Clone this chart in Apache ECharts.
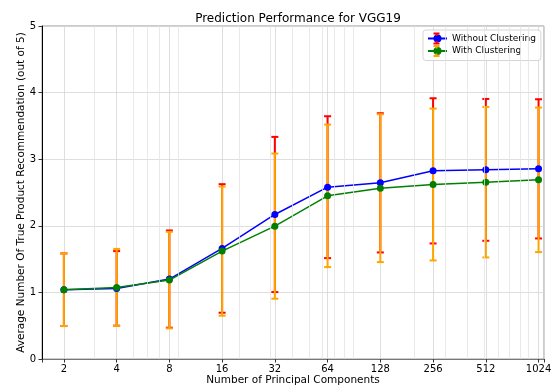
<!DOCTYPE html>
<html>
<head>
<meta charset="utf-8">
<script src="https://cdn.jsdelivr.net/npm/echarts@6/dist/echarts.min.js"></script>
<style>
  html, body { margin: 0; padding: 0; background: #fff; }
  #main { width: 554px; height: 390px; }
</style>
</head>
<body>
<div id="main"></div>
<script>
var myChart = echarts.init(document.getElementById('main'));

// number of principal components (x, log scale)
var components = [2, 4, 8, 16, 32, 64, 128, 256, 512, 1024];
// mean and std of recommendations
var meanWithout = [1.04, 1.06, 1.20, 1.66, 2.17, 2.58, 2.645, 2.825, 2.84, 2.855];
var stdWithout  = [0.545, 0.56, 0.73, 0.965, 1.165, 1.065, 1.045, 1.09, 1.065, 1.045];
var meanWith    = [1.04, 1.075, 1.185, 1.62, 1.995, 2.45, 2.565, 2.62, 2.655, 2.69];
var stdWith     = [0.545, 0.578, 0.725, 0.97, 1.09, 1.07, 1.11, 1.14, 1.13, 1.085];
// minor grid lines of a base-10 log axis (matplotlib style)
var minorGridX = [3, 5, 6, 7, 9, 20, 30, 40, 50, 60, 70, 80, 90, 200, 300, 400, 500, 600, 700, 800, 900];

var font = 'DejaVu Sans';

function pointData(means) {
    return components.map(function (c, i) { return [c, means[i]]; });
}
function errData(means, stds) {
    return components.map(function (c, i) { return [c, means[i] - stds[i], means[i] + stds[i]]; });
}

function errorBarItem(color) {
    return function (params, api) {
        var x = api.value(0);
        var pLo = api.coord([x, api.value(1)]);
        var pHi = api.coord([x, api.value(2)]);
        var cap = 3.5;
        var style = { stroke: color, lineWidth: 2, fill: null };
        return {
            type: 'group',
            children: [
                { type: 'line', shape: { x1: pLo[0], y1: pLo[1], x2: pHi[0], y2: pHi[1] }, style: style },
                { type: 'line', shape: { x1: pLo[0] - cap, y1: pLo[1], x2: pLo[0] + cap, y2: pLo[1] }, style: style },
                { type: 'line', shape: { x1: pHi[0] - cap, y1: pHi[1], x2: pHi[0] + cap, y2: pHi[1] }, style: style }
            ]
        };
    };
}

// minor grid lines + small minor ticks under the axis
var minorLines = [];
minorGridX.forEach(function (v) {
    minorLines.push({ xAxis: v, lineStyle: { color: '#e3e3e3', width: 0.8, type: 'solid' } });
    minorLines.push([
        { coord: [v, 0], lineStyle: { color: '#555', width: 0.8, type: 'solid' } },
        { coord: [v, -0.03] }
    ]);
});

// little error bar glyphs for the legend rows
function legendErr(cx, cy, color) {
    var s = { stroke: color, lineWidth: 2 };
    return [
        { type: 'line', z: 20, shape: { x1: cx, y1: cy - 5, x2: cx, y2: cy - 2.5 }, style: s },
        { type: 'line', z: 20, shape: { x1: cx, y1: cy + 2.5, x2: cx, y2: cy + 5 }, style: s },
        { type: 'line', z: 20, shape: { x1: cx - 3, y1: cy - 5, x2: cx + 3, y2: cy - 5 }, style: s },
        { type: 'line', z: 20, shape: { x1: cx - 3, y1: cy + 5, x2: cx + 3, y2: cy + 5 }, style: s }
    ];
}

var option = {
    backgroundColor: '#fff',
    animation: false,
    title: {
        text: 'Prediction Performance for VGG19',
        left: 293,
        textAlign: 'center',
        top: 8,
        textStyle: { fontFamily: font, fontSize: 12, fontWeight: 'normal', color: '#000' }
    },
    grid: {
        left: 42, right: 10, top: 26, bottom: 31,
        outerBoundsMode: 'none',
        containLabel: false,
        show: true, borderColor: '#999', borderWidth: 1
    },
    legend: {
        data: ['Without Clustering', 'With Clustering'],
        orient: 'vertical',
        left: 423,
        top: 30,
        padding: [3, 5, 4, 4],
        itemGap: 1.5,
        itemWidth: 19,
        itemHeight: 10,
        borderColor: '#d5d5d5',
        borderWidth: 1,
        borderRadius: 3,
        backgroundColor: 'rgba(255,255,255,0.85)',
        textStyle: { fontFamily: font, fontSize: 9, lineHeight: 11, color: '#000' }
    },
    graphic: legendErr(436.5, 38.5, 'red').concat(legendErr(436.5, 51, 'orange')),
    xAxis: {
        type: 'log',
        logBase: 2,
        min: 1.5,
        max: 1100,
        name: 'Number of Principal Components',
        nameLocation: 'middle',
        nameGap: 16,
        nameMoveOverlap: false,
        nameTextStyle: { fontFamily: font, fontSize: 10.5, color: '#000', verticalAlign: 'top' },
        axisLine: { lineStyle: { color: '#777', width: 1 } },
        axisTick: { show: true, length: 3.5, lineStyle: { color: '#333' } },
        axisLabel: {
            fontFamily: font, fontSize: 10, color: '#000', margin: 5,
            formatter: function (v) {
                var r = Math.round(v);
                return (Math.abs(v - r) < 1e-6 && components.indexOf(r) >= 0) ? String(r) : '';
            }
        },
        splitLine: { show: true, lineStyle: { color: '#d6d6d6', width: 0.8 } }
    },
    yAxis: {
        type: 'value',
        min: 0,
        max: 5,
        interval: 1,
        name: 'Average Number Of True Product Recommendation (out of 5)',
        nameLocation: 'middle',
        nameGap: 15,
        nameMoveOverlap: false,
        nameTextStyle: { fontFamily: font, fontSize: 10.5, color: '#000' },
        axisLine: { show: true, lineStyle: { color: '#000', width: 1 } },
        axisTick: { show: true, length: 3.5, lineStyle: { color: '#333' } },
        axisLabel: { fontFamily: font, fontSize: 10, color: '#000', margin: 6 },
        splitLine: { show: true, lineStyle: { color: '#d6d6d6', width: 0.8 } }
    },
    series: [
        {
            name: 'minor',
            type: 'line',
            data: [],
            z: 0,
            silent: true,
            markLine: {
                silent: true,
                symbol: ['none', 'none'],
                label: { show: false },
                animation: false,
                data: minorLines
            }
        },
        {
            name: 'Without Clustering err',
            type: 'custom',
            z: 1,
            renderItem: errorBarItem('#ff0000'),
            encode: { x: 0, y: [1, 2] },
            data: errData(meanWithout, stdWithout)
        },
        {
            name: 'With Clustering err',
            type: 'custom',
            z: 2,
            renderItem: errorBarItem('#ffa500'),
            encode: { x: 0, y: [1, 2] },
            data: errData(meanWith, stdWith)
        },
        {
            name: 'Without Clustering',
            type: 'line',
            z: 3,
            symbol: 'circle',
            symbolSize: 7,
            itemStyle: { color: '#0000ff' },
            lineStyle: { color: '#0000ff', width: 1.5 },
            data: pointData(meanWithout)
        },
        {
            name: 'With Clustering',
            type: 'line',
            z: 4,
            symbol: 'circle',
            symbolSize: 7,
            itemStyle: { color: '#008000' },
            lineStyle: { color: '#008000', width: 1.5 },
            data: pointData(meanWith)
        }
    ]
};
myChart.setOption(option);
</script>
</body>
</html>
